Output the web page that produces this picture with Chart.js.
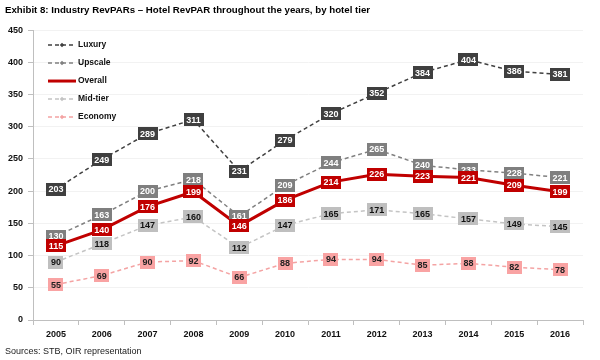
<!DOCTYPE html>
<html>
<head>
<meta charset="utf-8">
<script src="https://cdn.jsdelivr.net/npm/chart.js@4.4.1/dist/chart.umd.min.js"></script>
<style>
  html, body { margin: 0; padding: 0; background: #ffffff; }
  #wrap { width: 600px; height: 360px; position: relative; }
</style>
</head>
<body>
<div id="wrap"><canvas id="c" width="600" height="360"></canvas></div>
<script>
// ---- Data ----
const years = ['2005','2006','2007','2008','2009','2010','2011','2012','2013','2014','2015','2016'];
const luxury  = [203, 249, 289, 311, 231, 279, 320, 352, 384, 404, 386, 381];
const upscale = [130, 163, 200, 218, 161, 209, 244, 265, 240, 233, 228, 221];
const overall = [115, 140, 176, 199, 146, 186, 214, 226, 223, 221, 209, 199];
const midTier = [90, 118, 147, 160, 112, 147, 165, 171, 165, 157, 149, 145];
const economy = [55, 69, 90, 92, 66, 88, 94, 94, 85, 88, 82, 78];
const seriesNames = ['Luxury', 'Upscale', 'Overall', 'Mid-tier', 'Economy'];
const yTicks = [0, 50, 100, 150, 200, 250, 300, 350, 400, 450];
const titleText = 'Exhibit 8: Industry RevPARs \u2013 Hotel RevPAR throughout the years, by hotel tier';
const sourceText = 'Sources: STB, OIR representation';

const FONT = '"Liberation Sans", Arial, sans-serif';
Chart.defaults.font.family = FONT;

// styles per series (kept apart from data)
const styles = {
  'Luxury':   { line: '#404040', box: '#3F3F3F', text: '#FFFFFF', dash: [4, 3], width: 1.5 },
  'Upscale':  { line: '#808080', box: '#7F7F7F', text: '#FFFFFF', dash: [4, 3], width: 1.5 },
  'Overall':  { line: '#C00000', box: '#C00000', text: '#FFFFFF', dash: [],     width: 3 },
  'Mid-tier': { line: '#C4C4C4', box: '#BFBFBF', text: '#111111', dash: [4, 3], width: 1.5 },
  'Economy':  { line: '#F4A3A3', box: '#F9A3A3', text: '#222222', dash: [4, 3], width: 1.5 }
};
const seriesData = [luxury, upscale, overall, midTier, economy];
const drawOrder = [0, 1, 3, 4, 2]; // overall labels last (on top)

const datasets = seriesNames.map((name, i) => ({
  label: name,
  data: seriesData[i],
  borderColor: styles[name].line,
  backgroundColor: styles[name].line,
  borderDash: styles[name].dash,
  borderWidth: styles[name].width,
  pointRadius: 0,
  tension: 0,
  fill: false,
  order: name === 'Overall' ? 0 : 1
}));

const labelPlugin = {
  id: 'boxLabels',
  afterDatasetsDraw(chart) {
    const ctx = chart.ctx;
    ctx.save();
    ctx.font = 'bold 9px ' + FONT;
    ctx.textAlign = 'center';
    ctx.textBaseline = 'middle';
    drawOrder.forEach(di => {
      const ds = chart.data.datasets[di];
      const st = styles[ds.label];
      const meta = chart.getDatasetMeta(di);
      meta.data.forEach((pt, j) => {
        const txt = String(ds.data[j]);
        const w = ctx.measureText(txt).width + 5;
        const h = 13;
        ctx.fillStyle = st.box;
        ctx.fillRect(Math.round(pt.x - w / 2), Math.round(pt.y - h / 2), Math.round(w), h);
        ctx.fillStyle = st.text;
        ctx.fillText(txt, pt.x, pt.y + 0.5);
      });
    });
    ctx.restore();
  }
};

const legendPlugin = {
  id: 'innerLegend',
  afterDraw(chart) {
    const ctx = chart.ctx;
    const a = chart.chartArea;
    ctx.save();
    chart.data.datasets.forEach((ds, i) => {
      const st = styles[ds.label];
      const y = a.top + 15 + i * 18;
      const x0 = a.left + 15, x1 = a.left + 43;
      ctx.strokeStyle = st.line;
      ctx.lineWidth = st.width;
      ctx.setLineDash(st.dash);
      ctx.beginPath();
      ctx.moveTo(x0, y);
      ctx.lineTo(x1, y);
      ctx.stroke();
      ctx.setLineDash([]);
      if (st.dash.length) {
        const mx = (x0 + x1) / 2;
        ctx.fillStyle = st.line;
        ctx.beginPath();
        ctx.moveTo(mx, y - 2.2); ctx.lineTo(mx + 2.2, y); ctx.lineTo(mx, y + 2.2); ctx.lineTo(mx - 2.2, y);
        ctx.closePath();
        ctx.fill();
      }
      ctx.fillStyle = '#111111';
      ctx.font = 'bold 8.5px ' + FONT;
      ctx.textAlign = 'left';
      ctx.textBaseline = 'middle';
      ctx.fillText(ds.label, x1 + 2, y);
    });
    ctx.restore();
  }
};

new Chart(document.getElementById('c'), {
  type: 'line',
  data: { labels: years, datasets },
  plugins: [labelPlugin, legendPlugin],
  options: {
    responsive: false,
    animation: false,
    devicePixelRatio: 1,
    layout: { padding: { left: 5, right: 17, top: 0, bottom: 0 } },
    plugins: {
      legend: { display: false },
      tooltip: { enabled: false },
      title: {
        display: true,
        text: titleText,
        align: 'start',
        color: '#000000',
        font: { size: 9.7, weight: 'bold', family: FONT, lineHeight: 1.2 },
        padding: { top: 4.2, bottom: 14.2 }
      },
      subtitle: {
        display: true,
        position: 'bottom',
        text: sourceText,
        align: 'start',
        color: '#222222',
        font: { size: 9, weight: 'normal', family: FONT, lineHeight: 1.2 },
        padding: { top: 6.3, bottom: 2.9 }
      }
    },
    scales: {
      x: {
        type: 'category',
        offset: true,
        grid: { drawOnChartArea: false, drawTicks: true, tickLength: 5, tickColor: '#BFBFBF', offset: true },
        border: { color: '#BFBFBF', width: 1 },
        ticks: { color: '#111111', font: { size: 9, weight: 'bold' }, padding: 4, maxRotation: 0, autoSkip: false },
        afterFit(scale) { scale.height = 20; }
      },
      y: {
        min: 0,
        max: 450,
        afterBuildTicks(scale) { scale.ticks = yTicks.map(v => ({ value: v })); },
        grid: { color: '#F2F2F2', tickColor: '#BFBFBF', tickLength: 5, drawTicks: true },
        border: { color: '#BFBFBF', width: 1 },
        ticks: { color: '#111111', font: { size: 9, weight: 'bold' }, padding: 5 },
        afterFit(scale) { scale.width = 28; }
      }
    }
  }
});
</script>
</body>
</html>
